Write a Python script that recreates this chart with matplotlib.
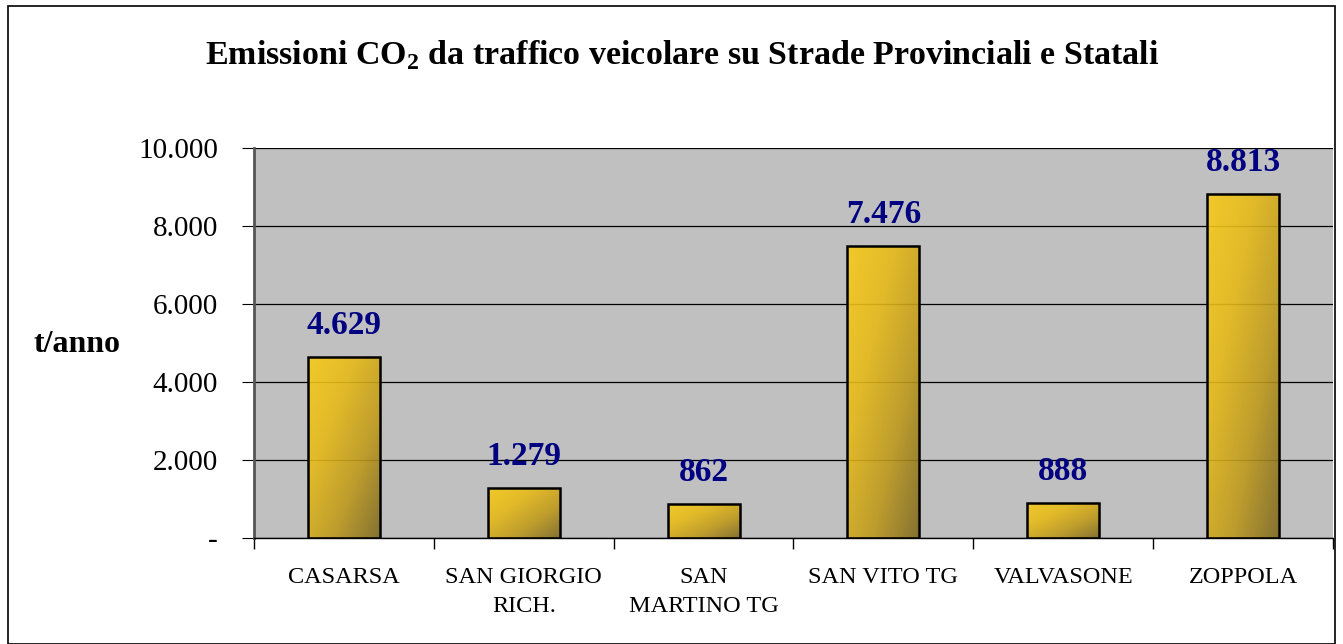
import numpy as np
import matplotlib.pyplot as plt
from matplotlib.colors import LinearSegmentedColormap
from matplotlib.ticker import FuncFormatter, FixedLocator
from matplotlib.patches import Rectangle

# --------------------------------------------------
# Daten
# --------------------------------------------------
comuni = ["CASARSA", "SAN GIORGIO\nRICH.", "SAN\nMARTINO TG",
          "SAN VITO TG", "VALVASONE", "ZOPPOLA"]
emissioni = [4629, 1279, 862, 7476, 888, 8813]
y_ticks = [0, 2000, 4000, 6000, 8000, 10000]

plt.rcParams["font.family"] = ["Liberation Serif", "DejaVu Serif"]


def fmt_thousands(v, pos=None):
    if v == 0:
        return "-"
    return f"{int(round(v)):,}".replace(",", ".")


fig = plt.figure(figsize=(13.43, 6.44), dpi=100)
ax = fig.add_axes([254 / 1343, 106 / 644, 1079 / 1343, 390 / 644])
ax.set_facecolor("#C0C0C0")

# Rahmen um das ganze Diagramm
fig.add_artist(Rectangle((8 / 1343, 0.5 / 644), 1327 / 1343, 638 / 644,
                         transform=fig.transFigure, fill=False,
                         edgecolor="black", linewidth=1.2))

x = np.arange(len(comuni))
bars = ax.bar(x, emissioni, width=0.4, color="none", edgecolor="black",
              linewidth=1.8, zorder=3)

# Verlauf in den Balken (oben links hell, unten rechts dunkel)
cmap = LinearSegmentedColormap.from_list(
    "gold", ["#F8CB18", "#E6BA18", "#BF9A1C", "#7F6A22"])
u = np.linspace(0, 1, 80)
uu, vv = np.meshgrid(u, u)
grad = 0.5 * uu + 0.5 * (1 - vv)
for b in bars:
    x0, w, h = b.get_x(), b.get_width(), b.get_height()
    im = ax.imshow(grad, cmap=cmap, vmin=0, vmax=1, origin="lower",
                   extent=[x0, x0 + w, 0, h], aspect="auto", zorder=2,
                   alpha=0.9)
    im.set_clip_path(b)

for xi, v in zip(x, emissioni):
    ax.annotate(fmt_thousands(v), (xi, v), xytext=(0, 23),
                textcoords="offset points", ha="center", va="center",
                fontsize=24, fontweight="bold", color="#000080")

ax.set_xlim(-0.5, len(comuni) - 0.5)
ax.set_ylim(0, 10000)
ax.yaxis.set_major_locator(FixedLocator(y_ticks))
ax.yaxis.set_major_formatter(FuncFormatter(fmt_thousands))
ax.grid(axis="y", color="black", linewidth=0.9, zorder=1)
ax.set_axisbelow(True)

ax.set_xticks(x)
ax.set_xticklabels(comuni, fontsize=17.5, linespacing=1.5)
ax.set_xticks(np.arange(len(comuni) + 1) - 0.5, minor=True)
ax.tick_params(axis="x", which="major", length=0, pad=21)
ax.tick_params(axis="x", which="minor", length=8, direction="out",
               width=1, color="black")
ax.tick_params(axis="y", length=9, direction="out", labelsize=21, pad=17)

for s in ["top", "right"]:
    ax.spines[s].set_visible(False)
ax.spines["left"].set_color("#555555")
ax.spines["left"].set_linewidth(2)
ax.spines["bottom"].set_linewidth(1)

fig.text(120 / 1343, 1 - 345 / 644, "t/anno", fontsize=23, fontweight="bold",
         ha="right", va="center")
fig.text(682 / 1343, 1 - 55 / 644,
         r"Emissioni CO$_\mathregular{2}$ da traffico veicolare su Strade Provinciali e Statali",
         fontsize=24.5, fontweight="bold", ha="center", va="center")

fig.savefig("out.png", dpi=100)
